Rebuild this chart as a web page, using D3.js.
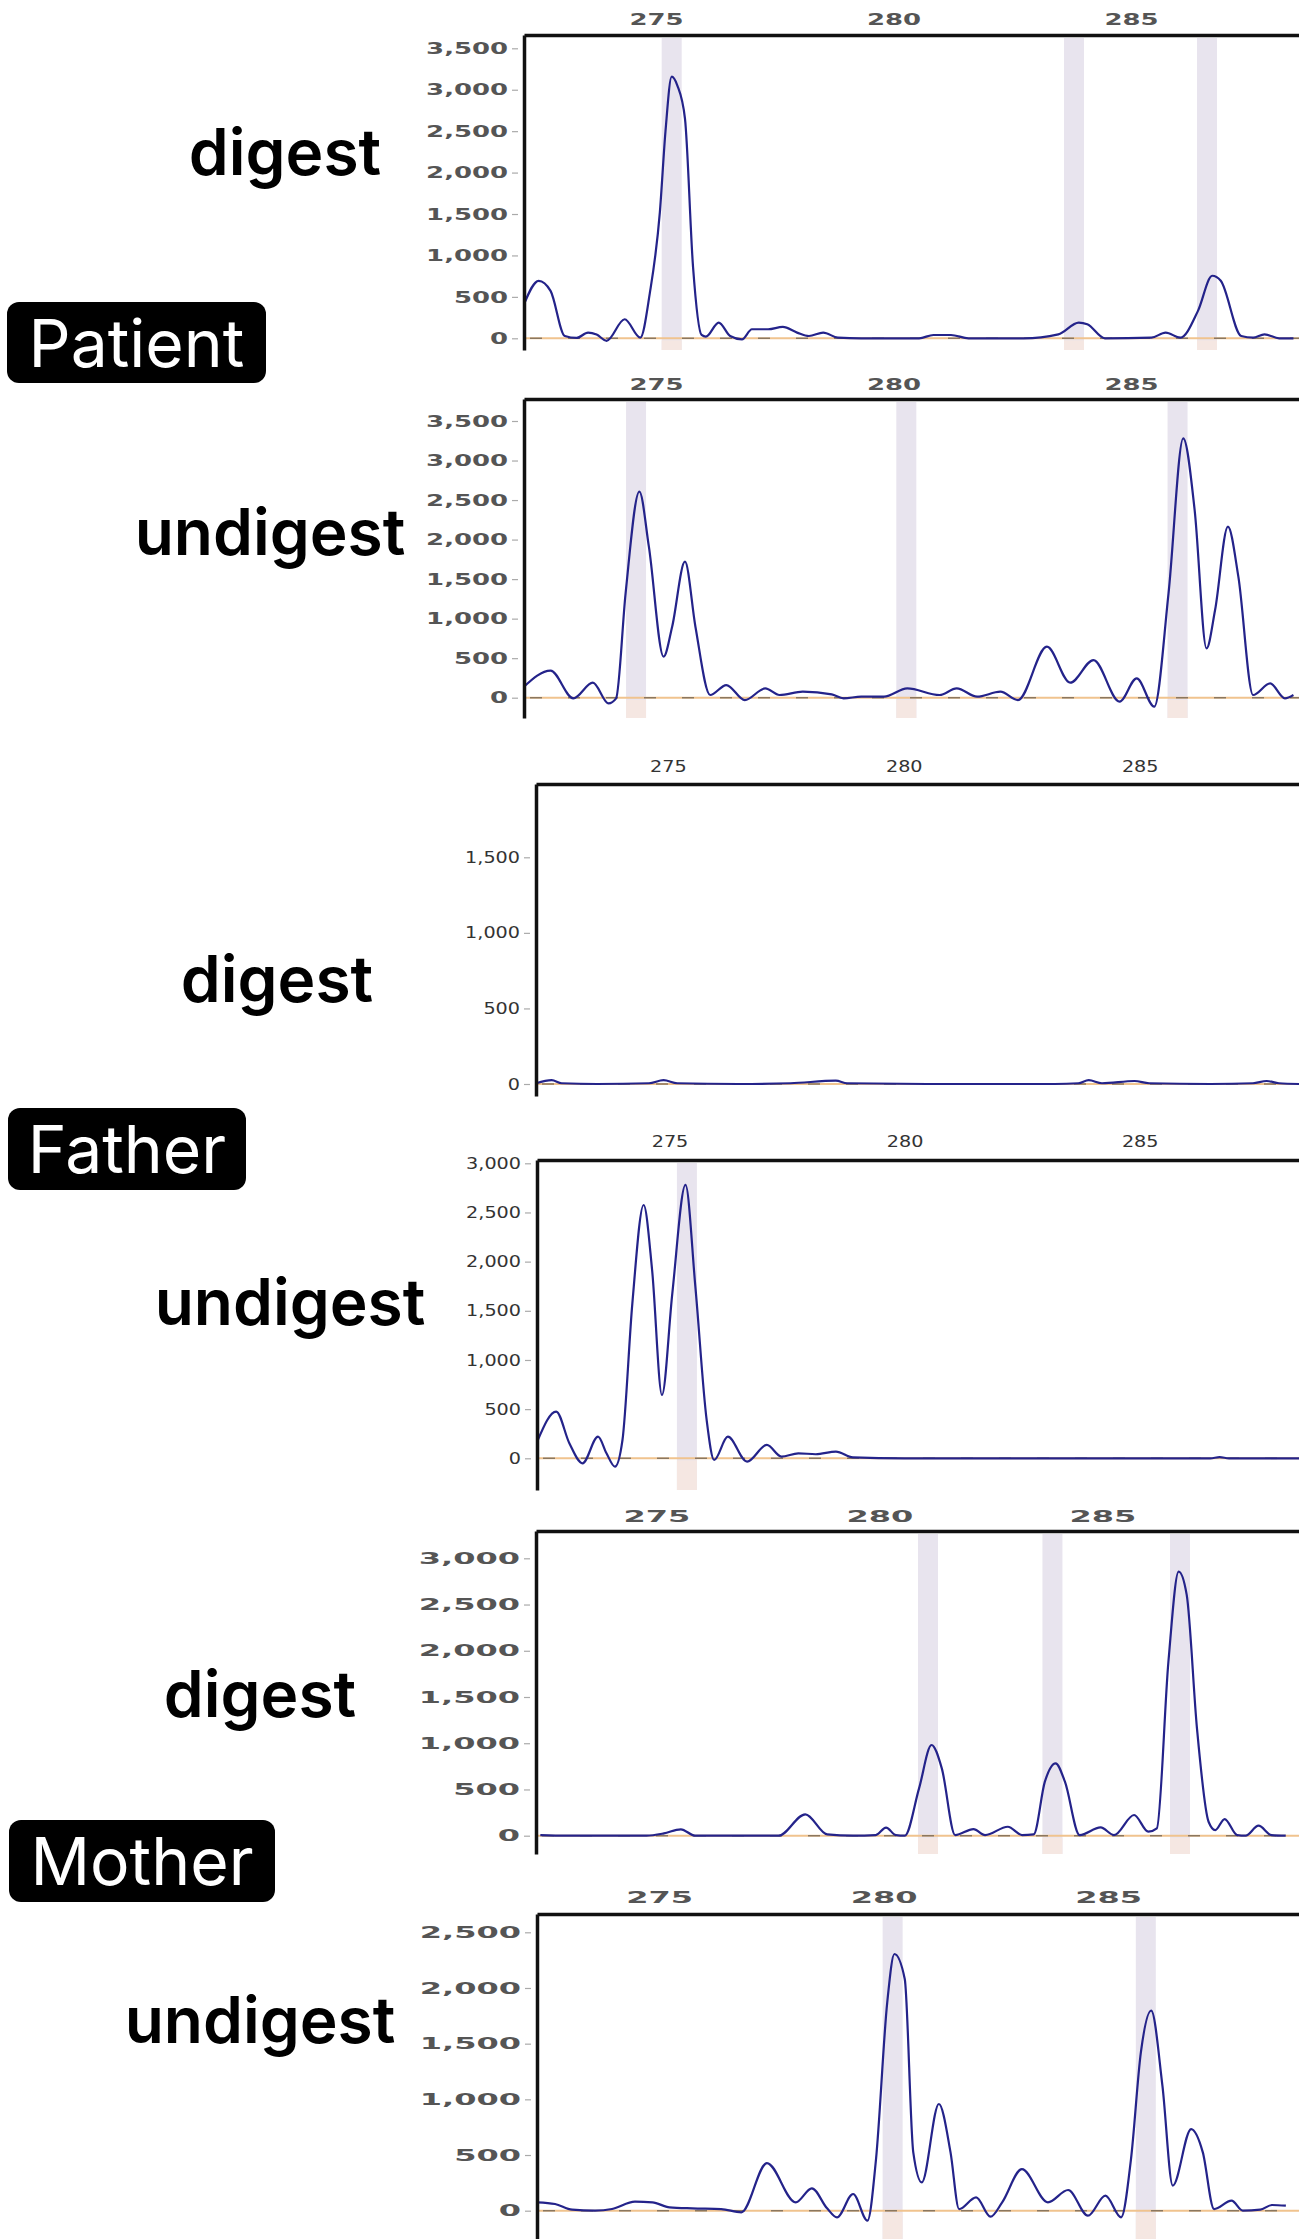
<!DOCTYPE html>
<html>
<head>
<meta charset="utf-8">
<script src="https://cdnjs.cloudflare.com/ajax/libs/d3/7.8.5/d3.min.js"></script>
<style>
body { margin: 0; background: #fff; }
</style>
</head>
<body>
<div id="chart"></div>
<script>
// ---- data (size in bp, signal in RFU) ----
var sizeTicks = [275, 280, 285];

var patientDigestSize = [272.22, 272.53, 272.78, 273.08, 273.33, 273.57, 273.75, 273.96, 274.34, 274.67, 274.87, 275.08, 275.2, 275.33, 275.45, 275.61, 275.78, 275.96, 276.05, 276.32, 276.56, 276.81, 277.02, 277.36, 277.67, 277.97, 278.22, 278.52, 278.83, 279.32, 280.54, 280.84, 281.21, 281.58, 282.74, 283.47, 283.9, 284.08, 284.45, 285.43, 285.73, 286.04, 286.41, 286.71, 286.89, 287.32, 287.57, 287.81, 288.12, 288.42];
var patientDigestRfu = [410, 694, 573, 28, 5, 69, 45, -30, 230, 8, 545, 1513, 2500, 3157, 3050, 2650, 860, 40, 20, 190, 28, -12, 109, 109, 137, 69, 28, 69, 8, 0, 0, 40, 40, 0, 0, 48, 190, 170, 0, 8, 69, 8, 331, 755, 694, 28, 8, 48, 0, 0];
var patientDigestBands = [275.33, 283.8, 286.6];

var patientUndigestSize = [272.22, 272.78, 273.26, 273.67, 274.0, 274.16, 274.36, 274.65, 274.85, 275.16, 275.34, 275.61, 275.83, 276.14, 276.48, 276.87, 277.3, 277.6, 278.09, 278.7, 278.95, 279.32, 279.8, 280.29, 280.97, 281.33, 281.76, 282.25, 282.62, 283.23, 283.72, 284.21, 284.76, 285.12, 285.49, 285.79, 286.1, 286.34, 286.59, 286.77, 287.04, 287.26, 287.57, 287.93, 288.24, 288.42];
var patientUndigestRfu = [139, 342, -8, 190, -72, -8, 1320, 2606, 1910, 519, 898, 1720, 898, 34, 160, -30, 118, 34, 76, 42, -8, 13, 13, 118, 34, 118, 13, 76, -30, 645, 190, 476, -50, 245, -114, 1320, 3281, 2374, 624, 1109, 2163, 1531, 34, 181, -8, 34];
var patientUndigestBands = [274.58, 280.27, 285.98];

var fatherDigestSize = [272.21, 272.54, 272.75, 273.5, 274.6, 274.91, 275.2, 276.5, 277.6, 278.56, 278.8, 280.5, 283.2, 283.7, 283.92, 284.2, 284.89, 285.2, 286.5, 287.4, 287.69, 287.95, 288.4];
var fatherDigestRfu = [5, 25, 5, 0, 5, 25, 5, 0, 5, 22, 5, 0, 0, 5, 25, 5, 20, 5, 0, 5, 20, 5, 0];
var fatherDigestBands = [];

var fatherUndigestSize = [272.2, 272.59, 272.87, 273.15, 273.48, 273.66, 273.84, 274.0, 274.21, 274.45, 274.63, 274.84, 275.06, 275.34, 275.55, 275.79, 275.95, 276.24, 276.65, 277.07, 277.38, 277.74, 278.11, 278.54, 278.9, 280.0, 285.0, 286.5, 286.7, 286.9, 288.4];
var fatherUndigestRfu = [186, 475, 153, -51, 220, 51, -85, 186, 1576, 2576, 1915, 644, 1678, 2780, 1746, 390, -17, 220, -34, 136, 17, 51, 41, 68, 10, 0, 0, 0, 12, 0, 0];
var fatherUndigestBands = [275.37];

var motherDigestSize = [272.4, 272.98, 274.78, 275.17, 275.55, 275.87, 277.74, 278.34, 278.83, 279.41, 279.92, 280.15, 280.37, 280.57, 280.89, 281.17, 281.4, 281.7, 282.11, 282.37, 282.88, 283.2, 283.46, 283.71, 283.95, 284.16, 284.49, 284.96, 285.26, 285.71, 286.03, 286.22, 286.48, 286.71, 286.89, 287.12, 287.38, 287.53, 287.74, 288.02, 288.21, 288.5, 288.79, 289.11];
var motherDigestRfu = [7, 0, 0, 25, 69, 0, 0, 231, 14, 0, 7, 87, 7, 0, 512, 981, 728, 7, 72, 7, 97, 7, 14, 584, 783, 584, 7, 90, 7, 224, 43, 79, 1882, 2856, 2604, 1161, 151, 61, 180, 7, 0, 108, 7, 0];
var motherDigestBands = [281.09, 283.88, 286.74];

var motherUndigestSize = [272.29, 272.68, 273.06, 273.57, 273.95, 274.46, 274.85, 275.23, 275.74, 276.38, 276.83, 277.4, 278.04, 278.4, 278.74, 278.96, 279.32, 279.64, 279.83, 280.08, 280.24, 280.47, 280.66, 280.85, 281.23, 281.49, 281.68, 282.06, 282.38, 282.64, 283.08, 283.66, 284.11, 284.55, 284.94, 285.29, 285.51, 285.73, 285.96, 286.21, 286.44, 286.85, 287.11, 287.36, 287.75, 288.0, 288.39, 288.65, 288.96];
var motherUndigestRfu = [75, 60, 9, 0, 15, 81, 75, 30, 21, 15, -15, 428, 75, 201, 21, -60, 150, -90, 464, 1871, 2305, 2081, 524, 254, 958, 524, 15, 120, -54, 75, 374, 75, 186, -45, 135, -60, 464, 1422, 1796, 1123, 225, 733, 524, 15, 90, 0, 9, 51, 45];
var motherUndigestBands = [280.2, 285.84];

var rfuTicks3500 = [0, 500, 1000, 1500, 2000, 2500, 3000, 3500];
var rfuTicks3000 = [0, 500, 1000, 1500, 2000, 2500, 3000];
var rfuTicks2500 = [0, 500, 1000, 1500, 2000, 2500];
var rfuTicks1500 = [0, 500, 1000, 1500];

// ---- layout ----
var W = 1299, H = 2239;

var panels = [
    { size: patientDigestSize, rfu: patientDigestRfu, bands: patientDigestBands, yTicks: rfuTicks3500,
      axisX: 524, top: 35, bottom: 350, zeroY: 338.3, refV: 3500, refY: 48.3, x275: 656, x285: 1131, pad: 10, sx: 1.62, bold: true,
      label: "digest", lx: 285, ly: 175 },
    { size: patientUndigestSize, rfu: patientUndigestRfu, bands: patientUndigestBands, yTicks: rfuTicks3500,
      axisX: 524, top: 399, bottom: 718, zeroY: 697.7, refV: 3500, refY: 421, x275: 656, x285: 1131, pad: 9, sx: 1.62, bold: true,
      label: "undigest", lx: 270, ly: 555 },
    { size: fatherDigestSize, rfu: fatherDigestRfu, bands: fatherDigestBands, yTicks: rfuTicks1500,
      axisX: 536, top: 784, bottom: 1096, zeroY: 1084, refV: 1500, refY: 857.3, x275: 667.8, x285: 1139.7, pad: 12, sx: 1.2, bold: false,
      label: "digest", lx: 277, ly: 1002 },
    { size: fatherUndigestSize, rfu: fatherUndigestRfu, bands: fatherUndigestBands, yTicks: rfuTicks3000,
      axisX: 537, top: 1160, bottom: 1490, zeroY: 1458.3, refV: 3000, refY: 1163.3, x275: 669.5, x285: 1139.7, pad: 13, sx: 1.2, bold: false,
      label: "undigest", lx: 290, ly: 1325 },
    { size: motherDigestSize, rfu: motherDigestRfu, bands: motherDigestBands, yTicks: rfuTicks3000,
      axisX: 536, top: 1531, bottom: 1854, zeroY: 1835.7, refV: 3000, refY: 1558.3, x275: 656.3, x285: 1102.4, pad: 9, sx: 2.0, bold: true,
      label: "digest", lx: 260, ly: 1717 },
    { size: motherUndigestSize, rfu: motherUndigestRfu, bands: motherUndigestBands, yTicks: rfuTicks2500,
      axisX: 537, top: 1914, bottom: 2239, zeroY: 2210.7, refV: 2500, refY: 1932.3, x275: 659.2, x285: 1108.1, pad: 11, sx: 2.0, bold: true,
      label: "undigest", lx: 260, ly: 2043 }
];

var people = [
    { name: "Patient", x: 7, y: 302, w: 259, h: 81, ty: 367 },
    { name: "Father", x: 8, y: 1108, w: 238, h: 82, ty: 1173 },
    { name: "Mother", x: 9, y: 1820, w: 266, h: 82, ty: 1885 }
];

var svg = d3.select("#chart").append("svg")
    .attr("width", W)
    .attr("height", H)
    .style("display", "block")
    .style("background-color", "#fff");

panels.forEach(function (p) {
    var g = svg.append("g").attr("class", "panel");

    var x0 = d3.scaleLinear().domain([275, 285]).range([p.x275, p.x285]);
    var x = d3.scaleLinear().domain([x0.invert(p.axisX), x0.invert(W)]).range([p.axisX, W]);
    var y0 = d3.scaleLinear().domain([0, p.refV]).range([p.zeroY, p.refY]);
    var y = d3.scaleLinear().domain([y0.invert(p.bottom), y0.invert(p.top)]).range([p.bottom, p.top]);

    // size-bin bands
    g.selectAll(".band").data(p.bands).enter()
        .append("rect")
        .attr("class", "band")
        .attr("x", function (d) { return x(d) - 10; })
        .attr("y", p.top + 3)
        .attr("width", 20)
        .attr("height", p.bottom - p.top - 3)
        .attr("fill", "#e8e4ee");
    g.selectAll(".bandfoot").data(p.bands).enter()
        .append("rect")
        .attr("class", "bandfoot")
        .attr("x", function (d) { return x(d) - 10; })
        .attr("y", y(0) + 2)
        .attr("width", 20)
        .attr("height", Math.max(0, p.bottom - y(0) - 2))
        .attr("fill", "#f5e7e2");

    // baseline (other dye channels sit on it)
    g.append("line")
        .attr("x1", p.axisX).attr("x2", W)
        .attr("y1", y(0)).attr("y2", y(0))
        .attr("stroke", "#f0c38e")
        .attr("stroke-width", 2);
    g.append("line")
        .attr("x1", p.axisX + 6).attr("x2", W)
        .attr("y1", y(0)).attr("y2", y(0))
        .attr("stroke", "#3a3a3a")
        .attr("stroke-width", 1.6)
        .attr("stroke-dasharray", "12,26")
        .attr("opacity", 0.55);

    // trace
    var pts = p.size.map(function (s, i) { return [s, p.rfu[i]]; });
    var line = d3.line()
        .x(function (d) { return x(d[0]); })
        .y(function (d) { return y(d[1]); })
        .curve(d3.curveMonotoneX);
    g.append("path")
        .datum(pts)
        .attr("d", line)
        .attr("fill", "none")
        .attr("stroke", "#24238a")
        .attr("stroke-width", 2.2)
        .attr("stroke-linejoin", "round");

    // top size axis
    var xa = g.append("g")
        .attr("transform", "translate(0," + p.top + ")")
        .call(d3.axisTop(x).tickValues(sizeTicks).tickSize(0).tickSizeOuter(0).tickPadding(p.pad));
    xa.select(".domain").attr("stroke", "#111").attr("stroke-width", 3.5);
    xa.selectAll(".tick text")
        .attr("font-family", "DejaVu Sans, sans-serif")
        .attr("font-size", 16)
        .attr("font-weight", p.bold ? "bold" : "normal")
        .attr("fill", p.bold ? "#555" : "#333")
        .attr("transform", "scale(" + p.sx + ",1)");

    // left RFU axis
    var ya = g.append("g")
        .attr("transform", "translate(" + p.axisX + ",0)")
        .call(d3.axisLeft(y).tickValues(p.yTicks).tickFormat(d3.format(",")).tickSize(0).tickSizeOuter(0));
    ya.select(".domain").attr("stroke", "#111").attr("stroke-width", 3.5);
    ya.selectAll(".tick line")
        .attr("x1", -6).attr("x2", -12)
        .attr("stroke", "#aaa")
        .attr("stroke-width", 1.2);
    ya.selectAll(".tick text")
        .attr("font-family", "DejaVu Sans, sans-serif")
        .attr("font-size", 16)
        .attr("font-weight", p.bold ? "bold" : "normal")
        .attr("fill", p.bold ? "#555" : "#333")
        .attr("x", -16 / p.sx)
        .attr("transform", "scale(" + p.sx + ",1)");

    // digest / undigest label
    svg.append("text")
        .attr("x", p.lx)
        .attr("y", p.ly)
        .attr("text-anchor", "middle")
        .attr("font-family", "Inter, sans-serif")
        .attr("font-weight", 600)
        .attr("font-size", 64)
        .attr("fill", "#000")
        .text(p.label);
});

// person tags
var tag = svg.selectAll(".tag").data(people).enter()
    .append("g")
    .attr("class", "tag");
tag.append("rect")
    .attr("x", function (d) { return d.x; })
    .attr("y", function (d) { return d.y; })
    .attr("width", function (d) { return d.w; })
    .attr("height", function (d) { return d.h; })
    .attr("rx", 12)
    .attr("fill", "#000");
tag.append("text")
    .attr("x", function (d) { return d.x + d.w / 2; })
    .attr("y", function (d) { return d.ty; })
    .attr("text-anchor", "middle")
    .attr("font-family", "Inter, sans-serif")
    .attr("font-size", 66)
    .attr("fill", "#fff")
    .text(function (d) { return d.name; });
</script>
</body>
</html>
